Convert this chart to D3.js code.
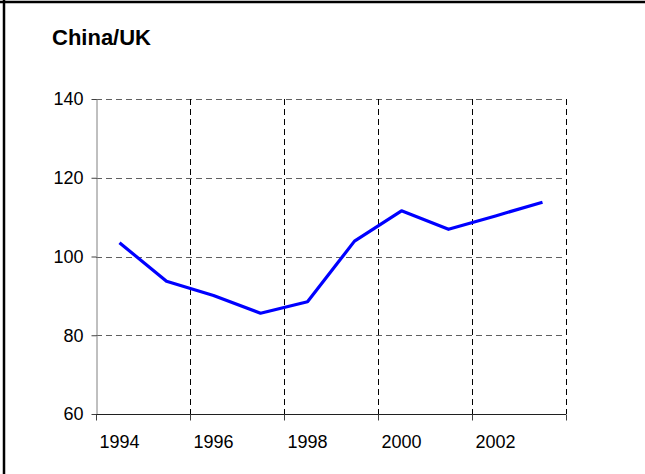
<!DOCTYPE html>
<html>
<head>
<meta charset="utf-8">
<script src="https://cdn.jsdelivr.net/npm/d3@7"></script>
<style>
  body { margin: 0; background: #fff; }
  svg { display: block; font-family: "Liberation Sans", Arial, sans-serif; }
</style>
</head>
<body>
<svg id="chart"></svg>
<script>
// Chart data
const years = ["1994", "1995", "1996", "1997", "1998", "1999", "2000", "2001", "2002", "2003"];
const ratio = [103.5, 93.7, 90.1, 85.6, 88.5, 103.9, 111.6, 106.9, 110.3, 113.8];
const yTicks = [60, 80, 100, 120, 140];
const xLabels = ["1994", "1996", "1998", "2000", "2002"];
const title = "China/UK";

const width = 645, height = 474;
const margin = { top: 99, right: 79, bottom: 60, left: 96 };
const innerW = width - margin.left - margin.right;
const innerH = height - margin.top - margin.bottom;

const svg = d3.select("#chart").attr("width", width).attr("height", height);

// Frame (top and left edges)
svg.append("line").attr("x1", 0).attr("x2", width).attr("y1", 2).attr("y2", 2)
  .attr("stroke", "#000").attr("stroke-width", 2.5);
svg.append("line").attr("x1", 4).attr("x2", 4).attr("y1", 0).attr("y2", height)
  .attr("stroke", "#000").attr("stroke-width", 2.5);

// Title
svg.append("text").attr("x", 52).attr("y", 45)
  .style("font-size", "22px").style("font-weight", "bold")
  .text(title);

const chart = svg.append("g").attr("transform", `translate(${margin.left},${margin.top})`);

// Scales
const x = d3.scaleBand().domain(years).range([0, innerW]).padding(0);
const y = d3.scaleLinear().domain([60, 140]).range([innerH, 0]);

// Vertical boundaries every two categories
const boundaries = years.filter((d, i) => i % 2 === 1).map(d => x(d) + x.bandwidth());

// Horizontal gridlines
chart.append("g").selectAll("line")
  .data(yTicks.filter(d => d > 60))
  .join("line")
  .attr("x1", 0).attr("x2", innerW)
  .attr("y1", d => Math.round(y(d)) + 0.5).attr("y2", d => Math.round(y(d)) + 0.5)
  .attr("stroke", "#606060").attr("stroke-dasharray", "6,4");

// Vertical gridlines
chart.append("g").selectAll("line")
  .data(boundaries)
  .join("line")
  .attr("x1", d => Math.round(d) + 0.5).attr("x2", d => Math.round(d) + 0.5)
  .attr("y1", 0).attr("y2", innerH)
  .attr("stroke", "#000").attr("stroke-dasharray", "6,4");

// Y axis
const yAxis = d3.axisLeft(y).tickValues(yTicks).tickSize(5).tickPadding(8).tickSizeOuter(0);
const yAxisG = chart.append("g").attr("transform", "translate(0.5,0)").call(yAxis);
yAxisG.attr("font-family", null).attr("font-size", null);
yAxisG.select(".domain").attr("stroke", "#808080");
yAxisG.selectAll(".tick line").attr("stroke", "#404040");
yAxisG.selectAll("text").style("font-size", "18px").attr("fill", "#000");

// X axis line and ticks
const xG = chart.append("g").attr("transform", `translate(0,${innerH + 0.5})`);
xG.append("line").attr("x1", 0).attr("x2", innerW).attr("stroke", "#202020");
xG.selectAll(".xtick")
  .data([0].concat(boundaries))
  .join("line")
  .attr("class", "xtick")
  .attr("x1", d => Math.round(d) + 0.5).attr("x2", d => Math.round(d) + 0.5)
  .attr("y1", 0).attr("y2", 6)
  .attr("stroke", "#404040");
xG.selectAll(".xlabel")
  .data(xLabels)
  .join("text")
  .attr("class", "xlabel")
  .attr("x", d => x(d) + x.bandwidth() / 2)
  .attr("y", 33)
  .attr("text-anchor", "middle")
  .style("font-size", "18px")
  .text(d => d);

// Line
const line = d3.line()
  .x((d, i) => x(years[i]) + x.bandwidth() / 2)
  .y(d => y(d));

chart.append("path")
  .datum(ratio)
  .attr("fill", "none")
  .attr("stroke", "#0000ff")
  .attr("stroke-width", 3.2)
  .attr("stroke-linejoin", "round")
  .attr("d", line);
</script>
</body>
</html>
